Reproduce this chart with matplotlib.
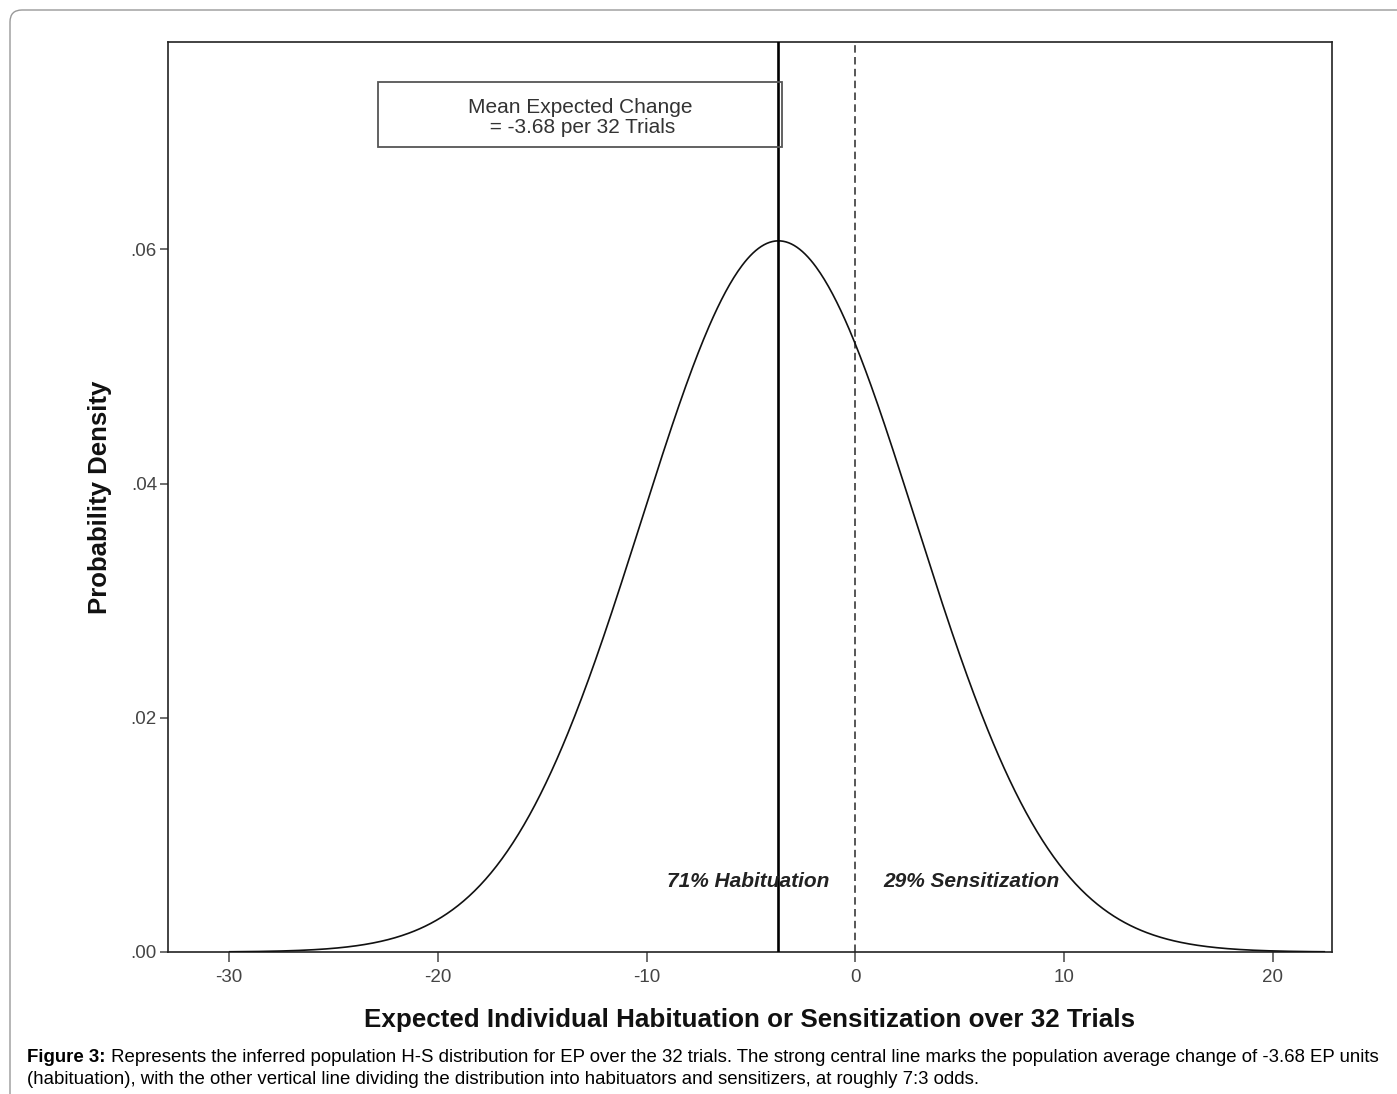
import numpy as np
import matplotlib
matplotlib.use("Agg")
import matplotlib.pyplot as plt
from matplotlib.patches import Rectangle, FancyBboxPatch
from matplotlib.transforms import IdentityTransform

# ---- data ----
MEAN_CHANGE = -3.68          # population mean change (solid line)
SD_CHANGE = 6.57             # spread of the inferred normal distribution
DIVIDER = 0.0                # habituation / sensitization boundary (dashed line)
CURVE_RANGE = [-30.0, 22.5]  # extent of the drawn density curve
X_TICKS = [-30, -20, -10, 0, 10, 20]
X_TICK_LABELS = ["-30", "-20", "-10", "0", "10", "20"]
Y_TICKS = [0.00, 0.02, 0.04, 0.06]
Y_TICK_LABELS = [".00", ".02", ".04", ".06"]
HAB_LABEL = "71% Habituation"
SEN_LABEL = "29% Sensitization"
BOX_TEXT = "Mean Expected Change\n = -3.68 per 32 Trials"
X_LABEL = "Expected Individual Habituation or Sensitization over 32 Trials"
Y_LABEL = "Probability Density"
CAPTION_BOLD = "Figure 3:"
CAPTION_LINE1 = (" Represents the inferred population H-S distribution for EP over the 32 trials. "
                 "The strong central line marks the population average change of -3.68 EP units")
CAPTION_LINE2 = ("(habituation), with the other vertical line dividing the distribution into "
                 "habituators and sensitizers, at roughly 7:3 odds.")

plt.rcParams['font.family'] = ['Liberation Sans', 'DejaVu Sans']

W, H = 1397, 1094
fig = plt.figure(figsize=(W / 100, H / 100), dpi=100)
ax = fig.add_axes([168 / W, 1 - 952 / H, (1332 - 168) / W, (952 - 42) / H])

x = np.linspace(CURVE_RANGE[0], CURVE_RANGE[1], 800)
pdf = np.exp(-0.5 * ((x - MEAN_CHANGE) / SD_CHANGE) ** 2) / (SD_CHANGE * np.sqrt(2 * np.pi))
ax.plot(x, pdf, color='#111111', lw=1.2, solid_capstyle='butt', zorder=3)

ax.axvline(MEAN_CHANGE, color='black', lw=1.9, zorder=4)
ax.axvline(DIVIDER, color='#3a3a3a', lw=1.2, linestyle=(0, (4.5, 2.6)), zorder=2)

ax.set_xlim(-32.92, 22.83)
ax.set_ylim(0, 0.0777)
ax.set_xticks(X_TICKS)
ax.set_xticklabels(X_TICK_LABELS)
ax.set_yticks(Y_TICKS)
ax.set_yticklabels(Y_TICK_LABELS)
ax.tick_params(axis='both', direction='out', colors='#555555', labelcolor='#444444',
               width=1.2, labelsize=13.5)
ax.tick_params(axis='x', length=7, pad=5)
ax.tick_params(axis='y', length=6, pad=2)
for s in ax.spines.values():
    s.set_color('#222222')
    s.set_linewidth(1.2)

# annotation box
y0, y1 = (952 - 147) / 11717, (952 - 82) / 11717
x0, x1 = -22.86, -3.51
ax.add_patch(Rectangle((x0, y0), x1 - x0, y1 - y0, fill=False, ec='#555555', lw=1.3, zorder=5))
ax.text(-13.19, (952 - 117) / 11717, BOX_TEXT, ha='center', va='center', fontsize=15,
        color='#333333', linespacing=1.08, zorder=6)

ax.text(-5.14, (952 - 881) / 11717, HAB_LABEL, ha='center', va='center', fontsize=15,
        fontweight='bold', fontstyle='italic', color='#222222', zorder=6)
ax.text(5.54, (952 - 881) / 11717, SEN_LABEL, ha='center', va='center', fontsize=15,
        fontweight='bold', fontstyle='italic', color='#222222', zorder=6)

fig.text(750 / W, 1 - 1020 / H, X_LABEL, ha='center', va='center', fontsize=18.7,
         fontweight='bold', color='#111111')
fig.text(100 / W, 1 - 497 / H, Y_LABEL, ha='center', va='center', fontsize=18.5,
         fontweight='bold', rotation=90, color='#111111')

# caption
fig.canvas.draw()
renderer = fig.canvas.get_renderer()
cx, cy1, cy2 = 27 / W, 1 - 1058 / H, 1 - 1079 / H
tb = fig.text(cx, cy1, CAPTION_BOLD, ha='left', va='center', fontsize=13.4, fontweight='bold',
              color='black')
bb = tb.get_window_extent(renderer)
fig.text(bb.x1 / W, cy1, CAPTION_LINE1, ha='left', va='center', fontsize=13.4, color='black')
fig.text(cx, cy2, CAPTION_LINE2, ha='left', va='center', fontsize=13.4, color='black')

# outer frame
frame = FancyBboxPatch((10, -30), W + 30 - 10, H - 10 + 30,
                       boxstyle="round,pad=0,rounding_size=12",
                       transform=IdentityTransform(), fill=False, ec='#999999', lw=1.0)
fig.add_artist(frame)

fig.savefig('out.png', dpi=100)
